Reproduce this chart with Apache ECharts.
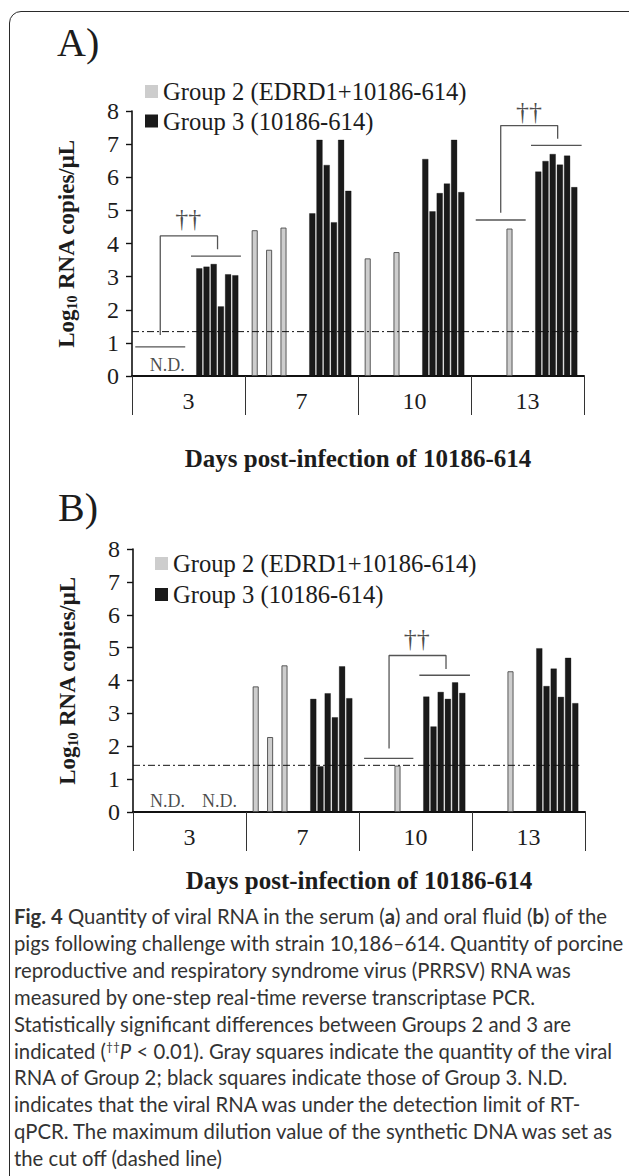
<!DOCTYPE html>
<html>
<head>
<meta charset="utf-8">
<script src="https://cdn.jsdelivr.net/npm/echarts/dist/echarts.min.js"></script>
<style>
  html, body { margin: 0; padding: 0; background: #fff; }
  body { width: 629px; height: 1176px; position: relative; overflow: hidden; }
  #frame { position: absolute; left: 9px; top: 11px; width: 700px; height: 1180px;
           border: 1.5px solid #2a2a2a; border-radius: 12px; box-sizing: border-box; }
  #chart { position: absolute; left: 0; top: 0; width: 629px; height: 900px; }
  #caption { position: absolute; left: 14px; top: 903px; width: 612px;
             font-family: Lato, "Open Sans", sans-serif; font-size: 20.3px; line-height: 26.9px;
             color: #333; white-space: nowrap; }
  #caption sup { font-size: 12px; line-height: 0; vertical-align: 8px; }
</style>
</head>
<body>
<div id="frame"></div>
<div id="chart"></div>
<div id="caption">
<b>Fig. 4</b> Quantity of viral RNA in the serum (<b>a</b>) and oral fluid (<b>b</b>) of the<br>
pigs following challenge with strain 10,186–614. Quantity of porcine<br>
reproductive and respiratory syndrome virus (PRRSV) RNA was<br>
measured by one-step real-time reverse transcriptase PCR.<br>
Statistically significant differences between Groups 2 and 3 are<br>
indicated (<sup>††</sup><i>P</i> &lt; 0.01). Gray squares indicate the quantity of the viral<br>
RNA of Group 2; black squares indicate those of Group 3. N.D.<br>
indicates that the viral RNA was under the detection limit of RT-<br>
qPCR. The maximum dilution value of the synthetic DNA was set as<br>
the cut off (dashed line)
</div>
<script>
// ---------------- data ----------------
const days = ['3', '7', '10', '13'];
const group2Name = 'Group 2 (EDRD1+10186-614)';
const group3Name = 'Group 3 (10186-614)';

// Panel A (serum): rows = pigs 1-6, columns = days 3, 7, 10, 13; null = N.D.
const serumGroup2 = [
  [null, 4.40, 3.55, null],
  [null, null, null, null],
  [null, 3.81, null, null],
  [null, null, null, null],
  [null, 4.48, 3.74, 4.45],
  [null, null, null, null]
];
const serumGroup3 = [
  [3.25, 4.91, 6.55, 6.17],
  [3.30, 7.13, 4.97, 6.49],
  [3.38, 6.37, 5.52, 6.70],
  [2.10, 4.64, 5.81, 6.38],
  [3.07, 7.13, 7.13, 6.65],
  [3.04, 5.59, 5.55, 5.70]
];
// Panel B (oral fluid)
const oralGroup2 = [
  [null, 3.82, null, null],
  [null, null, null, null],
  [null, 2.28, null, null],
  [null, null, null, null],
  [null, 4.46, 1.41, 4.28],
  [null, null, null, null]
];
const oralGroup3 = [
  [null, 3.44, 3.51, 4.98],
  [null, 1.39, 2.60, 3.83],
  [null, 3.61, 3.65, 4.36],
  [null, 2.88, 3.44, 3.50],
  [null, 4.43, 3.94, 4.69],
  [null, 3.46, 3.62, 3.31]
];
const serumCutoff = 1.34;
const oralCutoff = 1.42;
const cutoffSpan = [0, 3.95];   // along the day axis (0..4)

// Annotations: points are [position along days (0..4), log10 value]
const serumGroupLines = [
  [[0.029, 0.88], [0.471, 0.88]],
  [[0.522, 3.62], [0.964, 3.62]],
  [[3.042, 4.71], [3.484, 4.71]],
  [[3.531, 6.96], [3.979, 6.96]]
];
const serumBrackets = [
  [[0.250, 1.24], [0.250, 4.23], [0.757, 4.23], [0.757, 3.83]],
  [[3.263, 4.93], [3.263, 7.56], [3.767, 7.56], [3.767, 7.16]]
];
const serumDaggers = [[0.498, 4.74], [3.513, 7.98]];
const serumND = [[0.312, 0.33]];

const oralGroupLines = [
  [[2.045, 1.63], [2.481, 1.63]],
  [[2.534, 4.16], [2.982, 4.16]]
];
const oralBrackets = [
  [[2.266, 1.93], [2.266, 4.76], [2.770, 4.76], [2.770, 4.35]]
];
const oralDaggers = [[2.511, 5.27]];
const oralND = [[0.306, 0.32], [0.766, 0.32]];

// ---------------- styling ----------------
const SERIF = '"Liberation Serif", "Times New Roman", serif';
const GRAY = '#cdcdcd';
const BLACK = '#1a1a1a';
const INK = '#1c1c1c';

function panelSeries(g2, g3, xCat, xVal, yi, cutoff, groupLines, brackets, daggers, nds) {
  const s = [];
  const barBase = { type: 'bar', xAxisIndex: xCat, yAxisIndex: yi, barWidth: 6, barGap: '20%', animation: false };
  g2.forEach(row => s.push(Object.assign({}, barBase, {
    name: group2Name, data: row,
    itemStyle: { color: GRAY, borderColor: '#4a4a4a', borderWidth: 0.9 }
  })));
  for (let k = 0; k < 2; k++) s.push(Object.assign({}, barBase, {
    name: 'gap', data: days.map(() => null), silent: true
  }));
  g3.forEach(row => s.push(Object.assign({}, barBase, {
    name: group3Name, data: row,
    itemStyle: { color: BLACK, borderColor: '#000', borderWidth: 0.3 }
  })));
  const lineBase = { type: 'line', xAxisIndex: xVal, yAxisIndex: yi, symbol: 'none', silent: true, animation: false, z: 5 };
  s.push(Object.assign({}, lineBase, {
    name: 'cutoff', data: cutoffSpan.map(x => [x, cutoff]),
    lineStyle: { color: '#111', width: 1, type: [7, 3, 2, 3] }
  }));
  groupLines.concat(brackets).forEach(seg => s.push(Object.assign({}, lineBase, {
    name: 'annot', data: seg, lineStyle: { color: '#555', width: 1.3 }
  })));
  s.push({
    type: 'scatter', name: 'dagger', xAxisIndex: xVal, yAxisIndex: yi, data: daggers,
    symbolSize: 1, itemStyle: { color: 'rgba(0,0,0,0)' }, silent: true, animation: false,
    label: { show: true, position: 'inside', formatter: '††', fontFamily: SERIF, fontSize: 26, color: INK }
  });
  s.push({
    type: 'scatter', name: 'nd', xAxisIndex: xVal, yAxisIndex: yi, data: nds,
    symbolSize: 1, itemStyle: { color: 'rgba(0,0,0,0)' }, silent: true, animation: false,
    label: { show: true, position: 'inside', formatter: 'N.D.', fontFamily: SERIF, fontSize: 18, color: INK }
  });
  return s;
}

function catAxis(gi, nameGap) {
  return {
    type: 'category', gridIndex: gi, data: days,
    axisLine: { show: true, lineStyle: { color: '#111', width: 2 } },
    axisTick: { show: true, length: 39, lineStyle: { color: '#333', width: 1 } },
    axisLabel: { fontFamily: SERIF, fontSize: 24, color: INK, margin: 13 },
    splitLine: { show: false },
    name: 'Days post-infection of 10186-614', nameLocation: 'middle', nameGap: nameGap,
    nameTextStyle: { fontFamily: SERIF, fontSize: 25, fontWeight: 'bold', color: INK }
  };
}
function valXAxis(gi) {
  return { type: 'value', gridIndex: gi, min: 0, max: 4, show: false };
}
function yAxis(gi) {
  return {
    type: 'value', gridIndex: gi, min: 0, max: 8, interval: 1,
    axisLine: { show: true, lineStyle: { color: '#111', width: 1.6 } },
    axisTick: { show: true, length: 6, lineStyle: { color: '#111', width: 1.4 } },
    axisLabel: { fontFamily: SERIF, fontSize: 24, color: INK, margin: 13 },
    splitLine: { show: false },
    name: '{a|Log}{s|10}{a| RNA copies/μL}', nameLocation: 'middle', nameGap: 53,
    nameTextStyle: {
      rich: {
        a: { fontFamily: SERIF, fontSize: 23, fontWeight: 'bold', color: INK, lineHeight: 26 },
        s: { fontFamily: SERIF, fontSize: 14, fontWeight: 'bold', color: INK, lineHeight: 14, verticalAlign: 'bottom' }
      }
    }
  };
}
function legend(left, top, gap) {
  return {
    orient: 'vertical', left: left, top: top, padding: 0, itemGap: gap,
    itemWidth: 13, itemHeight: 13, icon: 'rect', selectedMode: false,
    data: [
      { name: group2Name, itemStyle: { color: GRAY, borderWidth: 0 } },
      { name: group3Name, itemStyle: { color: BLACK, borderWidth: 0 } }
    ],
    textStyle: { fontFamily: SERIF, fontSize: 24.6, color: INK, lineHeight: 24 }
  };
}

const chart = echarts.init(document.getElementById('chart'), null, { renderer: 'svg' });
chart.setOption({
  backgroundColor: 'transparent',
  animation: false,
  title: [
    { text: 'A)', left: 57, top: 22, padding: 0, textStyle: { fontFamily: SERIF, fontSize: 40, fontWeight: 'normal', color: INK } },
    { text: 'B)', left: 58, top: 487, padding: 0, textStyle: { fontFamily: SERIF, fontSize: 40, fontWeight: 'normal', color: INK } }
  ],
  legend: [legend(145, 79, 4.5), legend(155, 551, 6)],
  grid: [
    { left: 132, right: 45, top: 111, height: 265 },
    { left: 133, right: 44, top: 549, height: 263 }
  ],
  xAxis: [catAxis(0, 70), valXAxis(0), catAxis(1, 56), valXAxis(1)],
  yAxis: [yAxis(0), yAxis(1)],
  series: [].concat(
    panelSeries(serumGroup2, serumGroup3, 0, 1, 0, serumCutoff, serumGroupLines, serumBrackets, serumDaggers, serumND),
    panelSeries(oralGroup2, oralGroup3, 2, 3, 1, oralCutoff, oralGroupLines, oralBrackets, oralDaggers, oralND)
  )
});
</script>
</body>
</html>
